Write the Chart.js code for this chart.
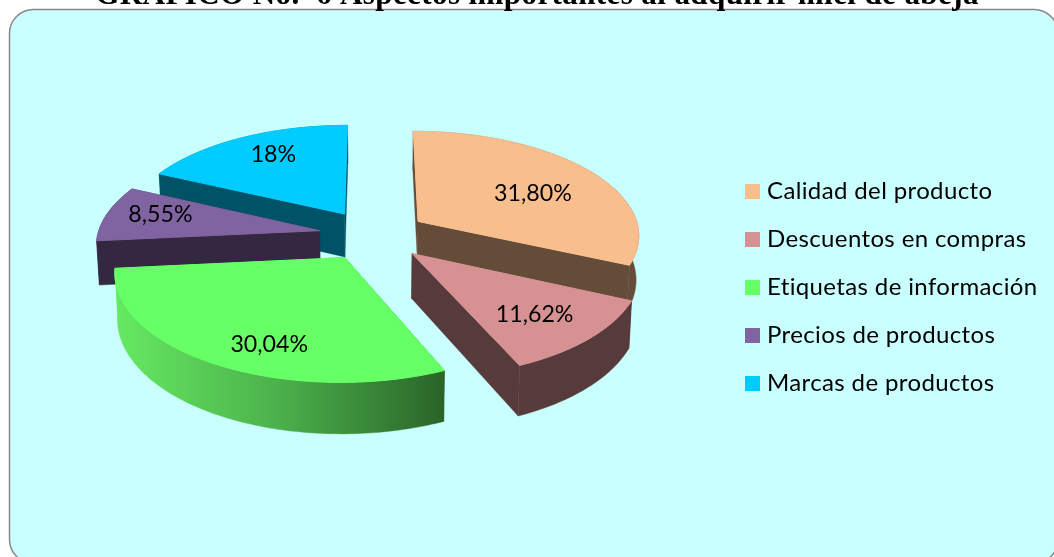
<!DOCTYPE html>
<html><head><meta charset="utf-8">
<style>html,body{margin:0;padding:0;background:#fff;overflow:hidden}canvas{display:block}</style>
<script src="https://cdn.jsdelivr.net/npm/chart.js@4"></script>
</head><body><canvas id="c" width="1054" height="557"></canvas>
<script>
const categories = ["Calidad del producto","Descuentos en compras","Etiquetas de información","Precios de productos","Marcas de productos"];
const values = [31.80,11.62,30.04,8.55,18];
const valueLabels = ["31,80%","11,62%","30,04%","8,55%","18%"];
const titleText = "GRÁFICO No.  6 Aspectos importantes al adquirir miel de abeja";
const topColors = ["#F9BE8E","#D69292","#66FF66","#8064A2","#00CCFF"];
const wallColors = ["#644C39","#573A3C",null,"#342841","#005266"];
const greenWall = ["#66EA62","#4BB04B","#2A6428"];
const labelNudge = [[-3,8],[5,5],[11,18],[-14,-4],[1,-6]];
const view = {cx:373,cy:235,A:222,B:104,k:0.12,explode:0.245,depth:44,shrink:0.99};

function project(X,Y){
  const w = 1 - view.k*Y;
  return {x:view.cx+view.A*X/w, y:view.cy+view.B*Y/w, w};
}
function drop(p){
  return {x:view.cx+(p.x-view.cx)*view.shrink, y:p.y+view.depth/p.w};
}
function sliceGeom(el){
  const a0 = el.startAngle+Math.PI/2, a1 = el.endAngle+Math.PI/2, m=(a0+a1)/2;
  const ox = view.explode*Math.sin(m), oy = -view.explode*Math.cos(m);
  const at = (ang,r)=>project(ox+r*Math.sin(ang), oy-r*Math.cos(ang));
  const n = Math.max(2,Math.ceil((a1-a0)/(Math.PI/180)));
  const rim=[]; for(let i=0;i<=n;i++) rim.push(at(a0+(a1-a0)*i/n,1));
  return {apex:at(0,0),rim,m,at,a0,a1};
}
function poly(ctx,pts,fill,seal){
  ctx.beginPath(); pts.forEach((p,i)=>i?ctx.lineTo(p.x,p.y):ctx.moveTo(p.x,p.y));
  ctx.closePath(); ctx.fillStyle=fill; ctx.fill();
  ctx.strokeStyle=fill; ctx.lineWidth=seal; ctx.lineJoin='round'; ctx.stroke();
}
const pie3d = {
  id:'pie3d',
  beforeDraw(chart){
    const ctx=chart.ctx; ctx.save();
    ctx.beginPath(); ctx.roundRect(9.5,9.5,1048.5,554,24);
    ctx.fillStyle="#CAFFFF"; ctx.fill();
    ctx.lineWidth=1.5; ctx.strokeStyle="#888888"; ctx.stroke();
    ctx.restore();
    ctx.letterSpacing='0.37px';
  },
  afterLayout(chart){
    const lg=chart.legend;
    lg.left=726; lg.top=155;
    lg.right=lg.left+lg.width; lg.bottom=lg.top+lg.height;
    lg.adjustHitBoxes();
    chart.titleBlock.left+=10; chart.titleBlock.right+=10;
  },
  beforeDatasetDraw(chart,args){
    const ctx=chart.ctx, els=args.meta.data;
    const order=els.map((e,i)=>i).sort((p,q)=>{
      const f=e=>-Math.cos((e.startAngle+e.endAngle)/2+Math.PI/2);
      return f(els[p])-f(els[q]);
    });
    ctx.save();
    order.forEach(i=>{
      const g=sliceGeom(els[i]);
      let wall=wallColors[i];
      if(!wall){
        const xs=g.rim.map(p=>p.x), x0=Math.min(...xs), x1=Math.max(...xs);
        wall=ctx.createLinearGradient(x0,0,x1,0);
        greenWall.forEach((c,j)=>wall.addColorStop(j/(greenWall.length-1),c));
      }
      const first=g.rim[0], last=g.rim[g.rim.length-1];
      poly(ctx,[g.apex,first,drop(first),drop(g.apex)],wall,0.4);
      poly(ctx,[g.apex,last,drop(last),drop(g.apex)],wall,0.4);
      poly(ctx,[...g.rim,...g.rim.map(drop).reverse()],wall,0.4);
      poly(ctx,[g.apex,...g.rim],topColors[i],1);
    });
    ctx.restore();
    return false;
  },
  afterDatasetsDraw(chart){
    const ctx=chart.ctx, els=chart.getDatasetMeta(0).data;
    ctx.save();
    ctx.letterSpacing='0px';
    ctx.font="23.2px Lato"; ctx.fillStyle="#000"; ctx.textAlign="center"; ctx.textBaseline="middle";
    els.forEach((el,i)=>{
      const g=sliceGeom(el), p=g.at(g.m,0.68);
      ctx.fillText(valueLabels[i],p.x+labelNudge[i][0],p.y+labelNudge[i][1]);
    });
    ctx.restore();
  }
};
function swatch(color){
  const s=document.createElement('canvas'); s.width=15; s.height=15;
  const c=s.getContext('2d'); c.fillStyle=color; c.fillRect(0,0,15,15); return s;
}
new Chart(document.getElementById('c'),{
  type:'pie',
  data:{labels:categories,datasets:[{data:values,backgroundColor:topColors,borderWidth:0}]},
  options:{
    responsive:false,animation:false,rotation:0,
    plugins:{
      tooltip:{enabled:false},
      title:{display:true,text:titleText,color:"#000",
        font:{family:"'Liberation Serif'",size:31.1,weight:'bold'},padding:{top:-23,bottom:0}},
      legend:{display:true,position:'right',align:'start',
        labels:{color:"#000",font:{family:"Lato",size:24},padding:24,usePointStyle:true,pointStyleWidth:5,boxHeight:15,
          generateLabels(chart){
            return chart.data.labels.map((t,i)=>({text:t,pointStyle:swatch(topColors[i]),fillStyle:topColors[i],strokeStyle:topColors[i],lineWidth:0,index:i,hidden:false}));
          }}}
    }
  },
  plugins:[pie3d]
});
</script></body></html>
